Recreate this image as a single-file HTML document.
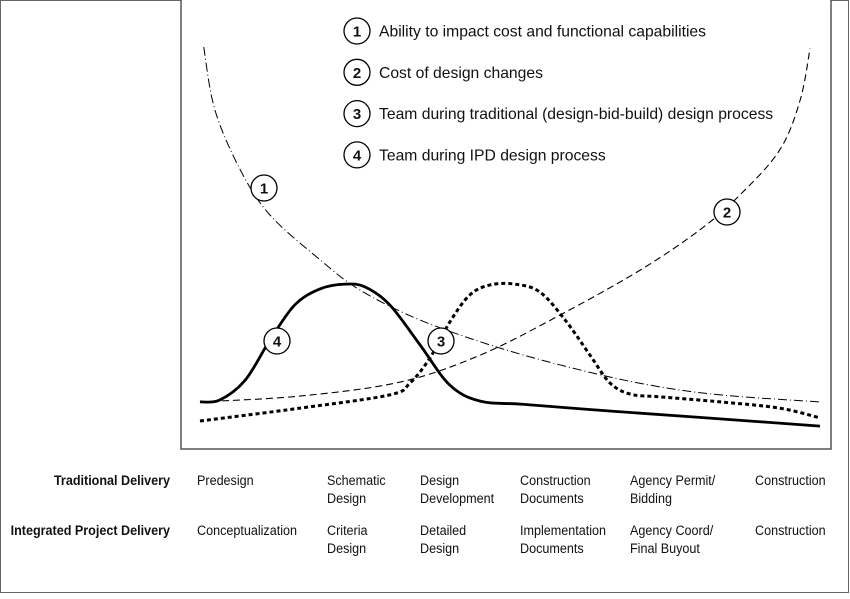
<!DOCTYPE html>
<html><head><meta charset="utf-8"><style>
body{margin:0;background:#fff}
svg text{font-family:"Liberation Sans",sans-serif;fill:#111}
</style></head><body>
<svg width="850" height="594">
<rect x="0.5" y="0.5" width="848" height="592" fill="#fff" stroke="#666" stroke-width="1"/>
<rect x="181" y="-1" width="650" height="450" fill="#fff" stroke="#555" stroke-width="1.5"/>
<g id="curves"></g>
<g id="legend" font-size="15.7"></g>
<g id="bottom" font-size="14" transform="scale(0.9,1)"></g>
</svg>
<script>
const c1X=[0.6,2.4,6.5,11.3,19.4,25.8,35.5,48.4,61.3,72.6,83.9,100];
const c1Y=[98.2,82.1,66.7,55.1,43.6,35.9,28.2,21.0,15.4,11.5,9.0,7.2];
const c2X=[0,16.1,32.3,45.2,58.1,71.0,80.6,87.1,93.5,96.8,98.4];
const c2Y=[7.2,8.7,12.3,19.2,29.5,41.0,51.3,60.3,71.8,84.6,97.9];
const c4X=[0,3.2,7.3,11.3,15.3,19.4,23.4,26.6,30.6,35.5,40.3,45.2,52,65,80,100];
const c4Y=[7.2,7.7,12.8,23.1,32.1,36.2,37.4,36.7,32.1,21.8,11.5,7.4,6.6,5.0,3.3,1.0];
const c3X=[0,16.1,30.6,33.9,37.1,40.3,43.5,46.8,50.8,54.8,58.9,62.9,66.1,69.4,74.2,84,93.5,100];
const c3Y=[2.3,5.6,9.0,12.1,18.5,27.7,34.6,37.2,37.4,35.4,28.2,19.2,12.1,9.2,8.5,7.2,5.6,3.1];
const legendItems=["Ability to impact cost and functional capabilities","Cost of design changes","Team during traditional (design-bid-build) design process","Team during IPD design process"];
const tradLabels=[["Predesign"],["Schematic","Design"],["Design","Development"],["Construction","Documents"],["Agency Permit/","Bidding"],["Construction"]];
const ipdLabels=[["Conceptualization"],["Criteria","Design"],["Detailed","Design"],["Implementation","Documents"],["Agency Coord/","Final Buyout"],["Construction"]];
const colX=[197,327,420,520,630,755];
const SX=0.9;
const xS=v=>200+v*6.2, yS=v=>430-v*3.9;
const NS="http://www.w3.org/2000/svg";
function path(xs,ys){const p=xs.map((x,i)=>[xS(x),yS(ys[i])]);let d=`M${p[0][0]},${p[0][1]}`;
for(let i=0;i<p.length-1;i++){const a=p[Math.max(0,i-1)],b=p[i],c=p[i+1],e=p[Math.min(p.length-1,i+2)];
d+=` C${b[0]+(c[0]-a[0])/6},${b[1]+(c[1]-a[1])/6} ${c[0]-(e[0]-b[0])/6},${c[1]-(e[1]-b[1])/6} ${c[0]},${c[1]}`;}return d;}
const g=document.getElementById('curves');
function addCurve(xs,ys,name,w,dash){const el=document.createElementNS(NS,'path');el.setAttribute('d',path(xs,ys));el.setAttribute('fill','none');el.setAttribute('stroke','#000');el.setAttribute('stroke-width',w);if(dash)el.setAttribute('stroke-dasharray',dash);


g.appendChild(el);}
addCurve(c1X,c1Y,'curve-1-impact-ability',1,'9 3 1 3');
addCurve(c2X,c2Y,'curve-2-design-change-cost',1.1,'7 4');
addCurve(c4X,c4Y,'curve-4-ipd-team',2.8,null);
addCurve(c3X,c3Y,'curve-3-traditional-team',3,'4 3');
function circ(parent,cx,cy,t,name){const c=document.createElementNS(NS,'circle');c.setAttribute('cx',cx);c.setAttribute('cy',cy);c.setAttribute('r',13);c.setAttribute('fill','#fff');c.setAttribute('stroke','#000');c.setAttribute('stroke-width',1.3);


parent.appendChild(c);const tx=document.createElementNS(NS,'text');tx.setAttribute('x',cx);tx.setAttribute('y',cy+5.5);tx.setAttribute('text-anchor','middle');tx.setAttribute('font-size','15');tx.setAttribute('font-weight','bold');tx.textContent=t;


parent.appendChild(tx);}
circ(g,264,188,'1','curve-1-marker');circ(g,727,212,'2','curve-2-marker');circ(g,441,341,'3','curve-3-marker');circ(g,277,341,'4','curve-4-marker');
const lg=document.getElementById('legend');
legendItems.forEach((t,i)=>{const y=31+i*41.3;circ(lg,357,y,String(i+1),'legend-marker-'+(i+1));
const tx=document.createElementNS(NS,'text');tx.setAttribute('x',379);tx.setAttribute('y',y+5.5);tx.textContent=t;


lg.appendChild(tx);});
const bt=document.getElementById('bottom');
function rowLabel(t,y,name){const tx=document.createElementNS(NS,'text');tx.setAttribute('x',170/SX);tx.setAttribute('y',y);tx.setAttribute('text-anchor','end');tx.setAttribute('font-weight','bold');tx.setAttribute('font-size','14');tx.textContent=t;


bt.appendChild(tx);}
rowLabel('Traditional Delivery',485,'traditional-delivery-label');
rowLabel('Integrated Project Delivery',535,'ipd-label');
function phases(arr,y,prefix){arr.forEach((lines,i)=>{const tx=document.createElementNS(NS,'text');tx.setAttribute('x',colX[i]/SX);tx.setAttribute('y',y);
lines.forEach((l,j)=>{const ts=document.createElementNS(NS,'tspan');ts.setAttribute('x',colX[i]/SX);ts.setAttribute('dy',j?18:0);ts.textContent=l;tx.appendChild(ts);});


bt.appendChild(tx);});}
phases(tradLabels,485,'traditional');
phases(ipdLabels,535,'ipd');
</script>
</body></html>
